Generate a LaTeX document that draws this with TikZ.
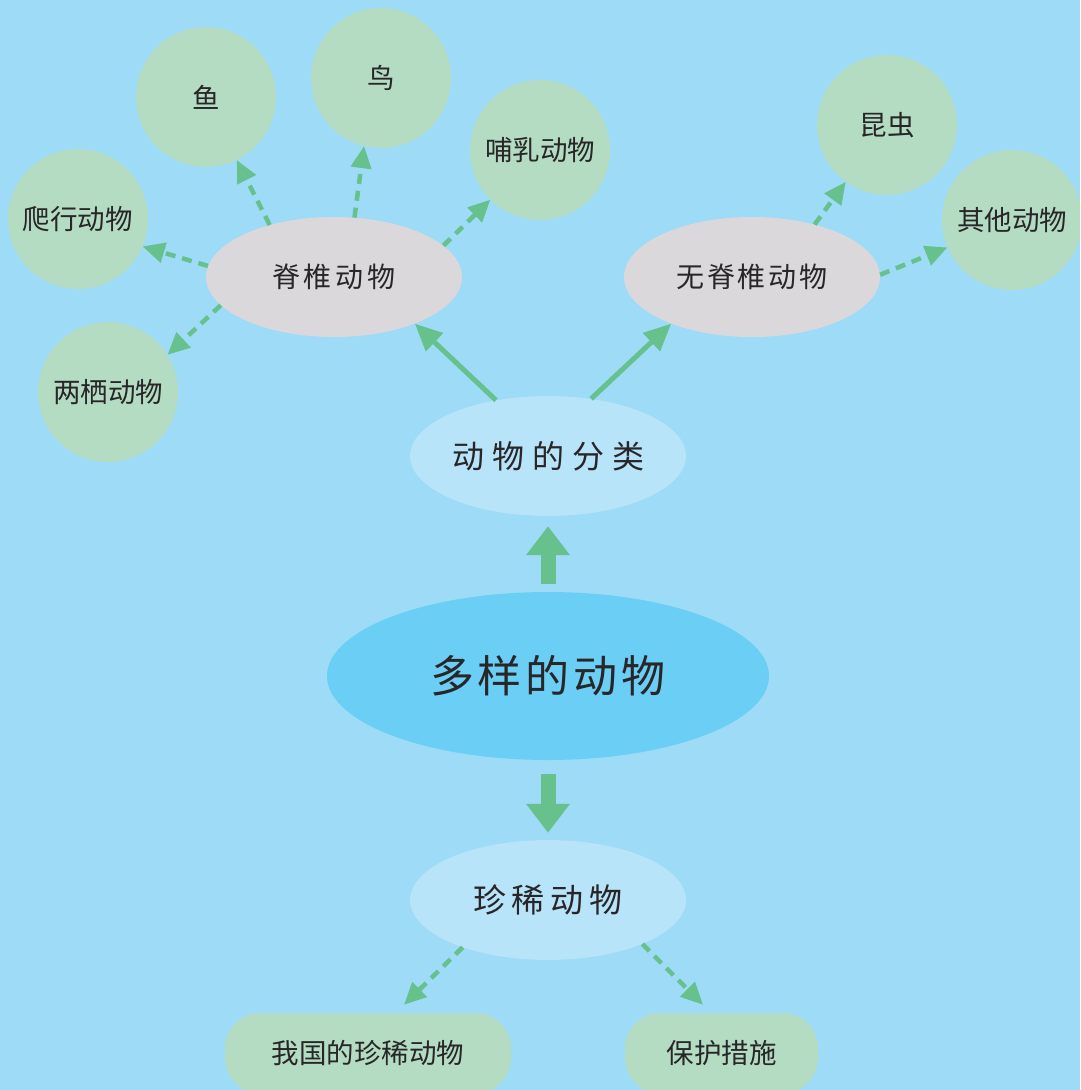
\documentclass[tikz,border=0pt]{standalone}
\usepackage{fontspec}
\setmainfont{Noto Sans CJK SC}
\usetikzlibrary{shapes.geometric,arrows.meta}
\definecolor{bgc}{RGB}{157,219,247}
\definecolor{leafc}{RGB}{179,220,194}
\definecolor{grayc}{RGB}{219,216,220}
\definecolor{lightc}{RGB}{183,228,249}
\definecolor{mainc}{RGB}{107,206,244}
\definecolor{arrc}{RGB}{102,193,140}
\definecolor{txtc}{RGB}{40,38,40}
\begin{document}
\begin{tikzpicture}[x=1pt,y=-1pt,
  leaf/.style={circle, fill=leafc, minimum size=140pt, inner sep=0pt, text=txtc, font=\fontsize{27.5}{30}\selectfont},
  grayell/.style={ellipse, fill=grayc, minimum width=256pt, minimum height=120pt, inner sep=0pt, text=txtc, font=\fontsize{28}{30}\selectfont},
  lightell/.style={ellipse, fill=lightc, minimum width=276pt, minimum height=120pt, inner sep=0pt, text=txtc, font=\fontsize{33}{36}\selectfont},
  mainell/.style={ellipse, fill=mainc, minimum width=442pt, minimum height=168pt, inner sep=0pt, text=txtc, font=\fontsize{44}{48}\selectfont},
  pill/.style={rectangle, rounded corners=35pt, fill=leafc, minimum height=80pt, inner sep=0pt, text=txtc, font=\fontsize{27.5}{30}\selectfont},
  bigarrow/.style={draw=arrc, line width=15pt, -{Triangle[width=42pt,length=29pt]}},
  solidarrow/.style={draw=arrc, line width=5pt, -{Triangle[width=24pt,length=27pt]}},
  dasharrow/.style={draw=arrc, line width=4.5pt, dash pattern=on 10pt off 7pt, -{Triangle[width=20pt,length=22pt]}},
]
\useasboundingbox (0,0) rectangle (1080,1090);
\fill[bgc] (0,0) rectangle (1080,1090);
\begin{scope}
\clip (0,0) rectangle (1080,1090);
% leaves
\node[leaf] (fish) at (206,97) {鱼};
\node[leaf] (bird) at (381,78) {鸟};
\node[leaf] (mammal) at (540,150) {哺乳动物};
\node[leaf] (reptile) at (78,219) {爬行动物};
\node[leaf] (amph) at (108,392) {两栖动物};
\node[leaf] (insect) at (887,125) {昆虫};
\node[leaf] (other) at (1012,220) {其他动物};
% categories
\node[grayell] (vert) at (334,277) {脊\kern4pt 椎\kern4pt 动\kern4pt 物};
\node[grayell] (invert) at (752,277) {无\kern3pt 脊\kern3pt 椎\kern3pt 动\kern3pt 物};
\node[lightell, font=\fontsize{32}{36}\selectfont] (cls) at (548,456) {动\kern8pt 物\kern8pt 的\kern8pt 分\kern8pt 类};
\node[mainell] (main) at (548,676) {多\kern4pt 样\kern4pt 的\kern4pt 动\kern4pt 物};
\node[lightell] (rare) at (548,900) {珍\kern6pt 稀\kern6pt 动\kern6pt 物};
\node[pill, minimum width=286pt] (lbox) at (368,1053) {我国的珍稀动物};
\node[pill, minimum width=193pt] (rbox) at (721.5,1053) {保护措施};
% big arrows
\draw[bigarrow] ([yshift=8pt]main.north) -- ([yshift=-10pt]cls.south);
\draw[bigarrow] ([yshift=-14pt]main.south) -- ([yshift=7pt]rare.north);
% solid arrows
\draw[solidarrow] (cls.133) -- (vert.-30);
\draw[solidarrow] (cls.53) -- (invert.-150);
% dashed arrows
\draw[dasharrow] (vert.141.8) -- (fish.-64.1);
\draw[dasharrow] (vert.71.6) -- (bird.-104.4);
\draw[dasharrow] (vert.16.4) -- (mammal.-135);
\draw[dasharrow] (vert.175.5) -- (reptile.-23);
\draw[dasharrow] (vert.-166) -- (amph.32.2);
\draw[dasharrow] (invert.40.7) -- (insect.-126.6);
\draw[dasharrow] (invert.1.8) -- (other.-157);
\draw[dasharrow] (rare.-151) -- ([shift={(36pt,8pt)}]lbox.north);
\draw[dasharrow] (rare.-25) -- ([shift={(-18.5pt,8pt)}]rbox.north);
\end{scope}
\end{tikzpicture}
\end{document}
